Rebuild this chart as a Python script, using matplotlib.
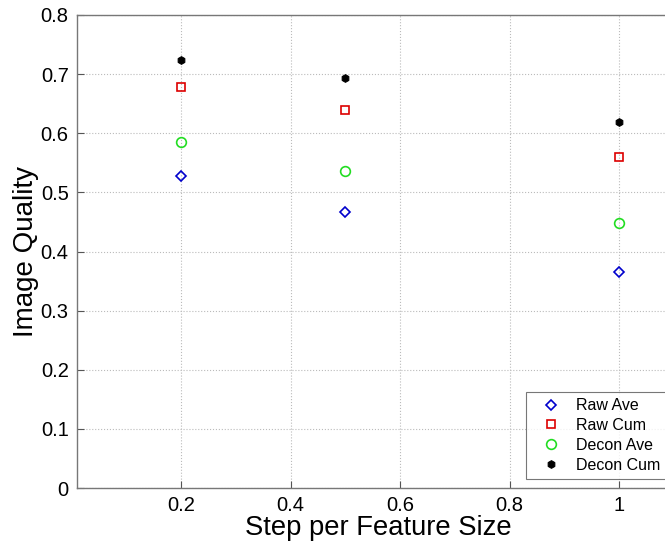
import matplotlib
matplotlib.use("Agg")
import matplotlib.pyplot as plt

steps = [0.2, 0.5, 1.0]
raw_ave = [0.528, 0.466, 0.365]
raw_cum = [0.679, 0.639, 0.559]
decon_ave = [0.585, 0.536, 0.449]
decon_cum = [0.724, 0.694, 0.619]

xticks = [0.2, 0.4, 0.6, 0.8, 1.0]
xticklabels = ["0.2", "0.4", "0.6", "0.8", "1"]
yticks = [0, 0.1, 0.2, 0.3, 0.4, 0.5, 0.6, 0.7, 0.8]
yticklabels = ["0", "0.1", "0.2", "0.3", "0.4", "0.5", "0.6", "0.7", "0.8"]

plt.rcParams['font.family'] = ['Liberation Sans', 'DejaVu Sans']

W, H = 665, 544
left_px, right_px, top_px, bot_px = 77, 680, 15, 488
fig = plt.figure(figsize=(W/100, H/100), dpi=100)
ax = fig.add_axes([left_px/W, 1-bot_px/H, (right_px-left_px)/W, (bot_px-top_px)/H])

ax.plot(steps, raw_ave, linestyle='none', marker='D', markersize=5.5, mfc='none',
        mec='#0000cc', mew=1.2, label='Raw Ave')
ax.plot(steps, raw_cum, linestyle='none', marker='s', markersize=6, mfc='none',
        mec='#dd0000', mew=1.2, label='Raw Cum')
ax.plot(steps, decon_ave, linestyle='none', marker='o', markersize=7, mfc='none',
        mec='#22dd22', mew=1.2, label='Decon Ave')
ax.plot(steps, decon_cum, linestyle='none', marker='h', markersize=5.5, mfc='black',
        mec='black', mew=0.8, label='Decon Cum')

ax.set_xlim(0.01, 1.111)
ax.set_ylim(0, 0.8)
ax.set_xticks(xticks)
ax.set_xticklabels(xticklabels)
ax.set_yticks(yticks)
ax.set_yticklabels(yticklabels)
ax.tick_params(direction='in', labelsize=14.5, length=5, color='#555555', pad=6)
ax.grid(True, linestyle=':', color='#bbbbbb', linewidth=0.8)
for s in ax.spines.values():
    s.set_color('#777777')
    s.set_linewidth(1.0)

ax.set_xlabel('Step per Feature Size', fontsize=19.7, labelpad=0)
ax.set_ylabel('Image Quality', fontsize=20, labelpad=1)

# legend lower-left corner at figure pixel (526, 544-479)
fx, fy = 526/W, (H-479)/H
leg = ax.legend(loc='lower left', bbox_to_anchor=(fx, fy), bbox_transform=fig.transFigure,
                fontsize=11.5, frameon=True, fancybox=False, edgecolor='#555555',
                borderpad=0.4, labelspacing=0.3, handletextpad=0.4, handlelength=2.3,
                borderaxespad=0)
leg.get_frame().set_linewidth(0.8)

fig.savefig('out.png', dpi=100)
